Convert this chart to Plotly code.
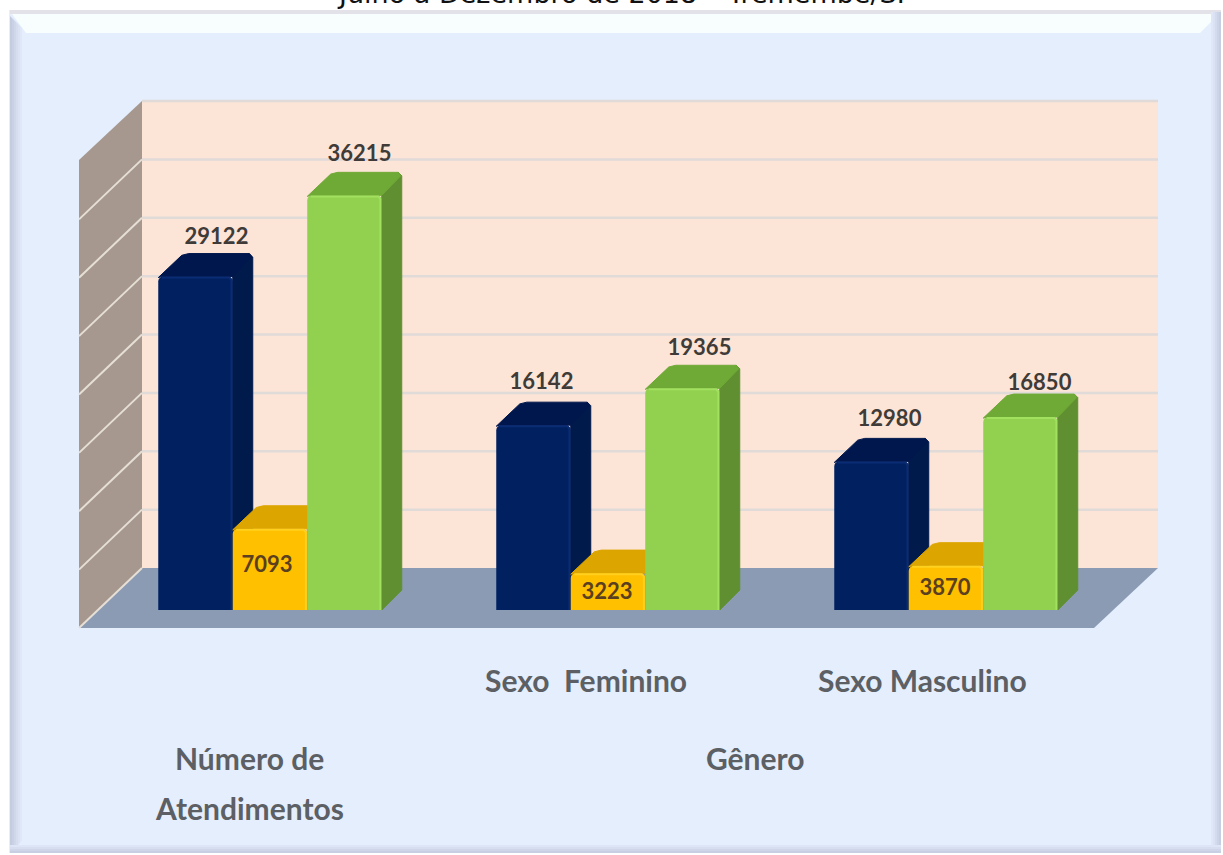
import plotly.graph_objects as go

# ---- data ----
series_names = ["Série azul", "Série amarela", "Série verde"]
blue_values = [29122, 16142, 12980]
yellow_values = [7093, 3223, 3870]
green_values = [36215, 19365, 16850]
group_positions = [0, 1, 2]
wall_ticks = [0, 5000, 10000, 15000, 20000, 25000, 30000, 35000, 40000]
category_labels = ["Número de", "Atendimentos", "Gênero", "Sexo  Feminino", "Sexo Masculino"]
clipped_title = "Julho a Dezembro de 2018 – Tremembé/SP"

W, H = 1223, 855
X = lambda p: p / W
Y = lambda p: 1 - p / H

# scale of the axes, chosen so the plot sits where the reference has it
BASE_PX, PX_PER_UNIT = 610, 0.01145
X0_PX, GROUP_PX = 270, 338
x_range = [(0 - X0_PX) / GROUP_PX, (W - X0_PX) / GROUP_PX]
y_range = [-(H - BASE_PX) / PX_PER_UNIT, BASE_PX / PX_PER_UNIT]
BAR_W = 74.5 / GROUP_PX
DX_R = 20 / GROUP_PX
DX_L = 27 / GROUP_PX
DY = 23 / PX_PER_UNIT
DY_B = 20 / PX_PER_UNIT
CX = 3.5 / GROUP_PX
CY = 3.5 / PX_PER_UNIT

shapes = []
def poly(points, fill, line=None, lw=0):
    path = "M" + " L".join(f"{X(a):.5f},{Y(b):.5f}" for a, b in points) + " Z"
    shapes.append(dict(type="path", xref="paper", yref="paper", path=path, fillcolor=fill,
                       line=dict(color=line or fill, width=lw), layer="below"))
def rect(x0, y0, x1, y1, fill):
    poly([(x0, y0), (x1, y0), (x1, y1), (x0, y1)], fill)
def seg(x0, y0, x1, y1, color, w):
    shapes.append(dict(type="line", xref="paper", yref="paper", x0=X(x0), y0=Y(y0), x1=X(x1), y1=Y(y1),
                       line=dict(color=color, width=w), layer="below"))

# frame
rect(9, 10, 1221, 853, "#E5EEFD")
poly([(10, 10), (1221, 10), (1221, 14), (10, 14)], "#E2E2E8")
poly([(12, 14), (1219, 14), (1200, 33), (26, 33)], "#F8FDFD")
for i, c in enumerate(["#C4CCDF", "#C9D1E4", "#CFD7EA", "#D5DDEF", "#DAE2F4", "#DFE7F8"]):
    poly([(10 + 2 * i, 16 + 2 * i), (12 + 2 * i, 18 + 2 * i), (12 + 2 * i, 851 - 2 * i), (10 + 2 * i, 853 - 2 * i)], c)
for i, c in enumerate(["#C6CEE2", "#CCD4E8", "#D3DBEE", "#DAE2F4", "#DFE7F8"]):
    rect(1219 - 2 * i, 12, 1221 - 2 * i, 853, c)
for i, c in enumerate(["#C8CFE2", "#CFD6E9", "#D6DEF0", "#DDE5F6"]):
    rect(10, 851 - 2 * i, 1221, 853 - 2 * i, c)

# walls and floor
poly([(142, 101), (1158, 101), (1158, 568), (142, 568)], "#FCE4D7")
poly([(79, 160), (142, 101), (142, 568), (79, 628)], "#A6988E")
poly([(142, 568), (1158, 568), (1094, 628), (79, 628)], "#8A9BB3")
WALL_STEP = (568 - 101) / (len(wall_ticks) - 1)
for t in wall_ticks:
    yb = 568 - WALL_STEP * t / (wall_ticks[1] - wall_ticks[0])
    if t > 0:
        seg(142, yb, 1158, yb, "#E0DAD8", 2.5)
    if t < wall_ticks[-1]:
        seg(79, yb + 60, 142, yb, "#E6DFD6", 2)

fig = go.Figure()
palette = [
    ("#012060", "#001A4C", "#00174D", "#0A2C75"),
    ("#FFC000", "#C99700", "#DDA500", "#FFD01E"),
    ("#92D050", "#5F8F30", "#6FAA36", "#A2E060"),
]
all_values = [blue_values, yellow_values, green_values]

for k, (name, vals, cols) in enumerate(zip(series_names, all_values, palette)):
    xa = "x" if k == 0 else f"x{k + 1}"
    ya = "y" if k == 0 else f"y{k + 1}"
    centers = [g + (k - 1) * BAR_W for g in group_positions]
    fig.add_trace(go.Bar(x=centers, y=vals, width=BAR_W, name=name, xaxis=xa, yaxis=ya,
                         marker=dict(color=cols[0], line=dict(width=0), cornerradius=5),
                         hoverinfo="skip"))
    for c, v in zip(centers, vals):
        l, r = c - BAR_W / 2, c + BAR_W / 2
        fx = r + DX_R
        top = v + DY
        fig.add_trace(go.Scatter(x=[r, fx, fx, fx - CX, r, r], y=[0, DY_B, top - CY, top, v, 0],
                                 mode="lines", fill="toself", fillcolor=cols[1],
                                 line=dict(color=cols[1], width=1), xaxis=xa, yaxis=ya, hoverinfo="skip"))
        fig.add_trace(go.Scatter(x=[l, l + DX_L - CX, l + DX_L + CX, fx - CX, fx - CX * 0.3, r, l + CX, l],
                                 y=[v - CY * 0.3, top - CY * 0.5, top, top, top - CY, v, v, v - CY * 0.3],
                                 mode="lines", fill="toself", fillcolor=cols[2],
                                 line=dict(color=cols[2], width=1), xaxis=xa, yaxis=ya, hoverinfo="skip"))
        fig.add_trace(go.Scatter(x=[l + CX, r - CX, r - 0.004, r - 0.004], y=[v - CY * 0.3, v - CY * 0.3, v - CY, 0],
                                 mode="lines", line=dict(color=cols[3], width=2),
                                 xaxis=xa, yaxis=ya, hoverinfo="skip"))

# value labels, on the topmost overlay (offsets in pixels from the bar's front top or middle)
label_dx = [[21, 8, 18], [-3, -1, -1], [15, 17, 19]]
label_dy = [[38, 41.5, 40.5], [3, -1.5, -2], [39.5, 38.5, 32.5]]
label_colors = ["#3F3B38", "#5A3F20", "#3F3B38"]
for k, vals in enumerate(all_values):
    centers = [g + (k - 1) * BAR_W for g in group_positions]
    xs = [c + d / GROUP_PX for c, d in zip(centers, label_dx[k])]
    ref = [v / 2 if k == 1 else v for v in vals]
    ys = [r + d / PX_PER_UNIT for r, d in zip(ref, label_dy[k])]
    fig.add_trace(go.Scatter(x=xs, y=ys, text=[str(v) for v in vals], mode="text", textposition="middle center",
                             textfont=dict(family="Lato, sans-serif", size=22, weight="bold", color=label_colors[k]),
                             xaxis="x3", yaxis="y3", hoverinfo="skip"))

CAT_FONT = dict(family="Lato, sans-serif", size=30, weight="bold", color="#5C5F63")
annotations = []
for text, (px, py) in zip(category_labels, [(249, 758), (249, 808), (755, 758), (586, 680), (922, 680)]):
    annotations.append(dict(xref="paper", yref="paper", x=X(px), y=Y(py), text=text, showarrow=False,
                            xanchor="center", yanchor="middle", font=CAT_FONT, align="center"))
annotations.append(dict(xref="paper", yref="paper", x=X(625), y=Y(11), text=clipped_title, showarrow=False,
                        xanchor="center", yanchor="bottom",
                        font=dict(family="DejaVu Sans", size=27, color="#111111")))

hidden = dict(visible=False, fixedrange=True)
fig.update_layout(
    width=W, height=H, margin=dict(l=0, r=0, t=0, b=0), paper_bgcolor="white", plot_bgcolor="rgba(0,0,0,0)",
    showlegend=False, barmode="overlay", shapes=shapes, annotations=annotations,
    xaxis=dict(range=x_range, domain=[0, 1], **hidden),
    yaxis=dict(range=y_range, domain=[0, 1], **hidden),
    xaxis2=dict(range=x_range, overlaying="x", **hidden),
    yaxis2=dict(range=y_range, overlaying="y", **hidden),
    xaxis3=dict(range=x_range, overlaying="x", **hidden),
    yaxis3=dict(range=y_range, overlaying="y", **hidden),
)
fig.write_html("out.html", config=dict(displayModeBar=False),
               post_script="document.body.style.margin='0';document.documentElement.style.overflow='hidden';")
